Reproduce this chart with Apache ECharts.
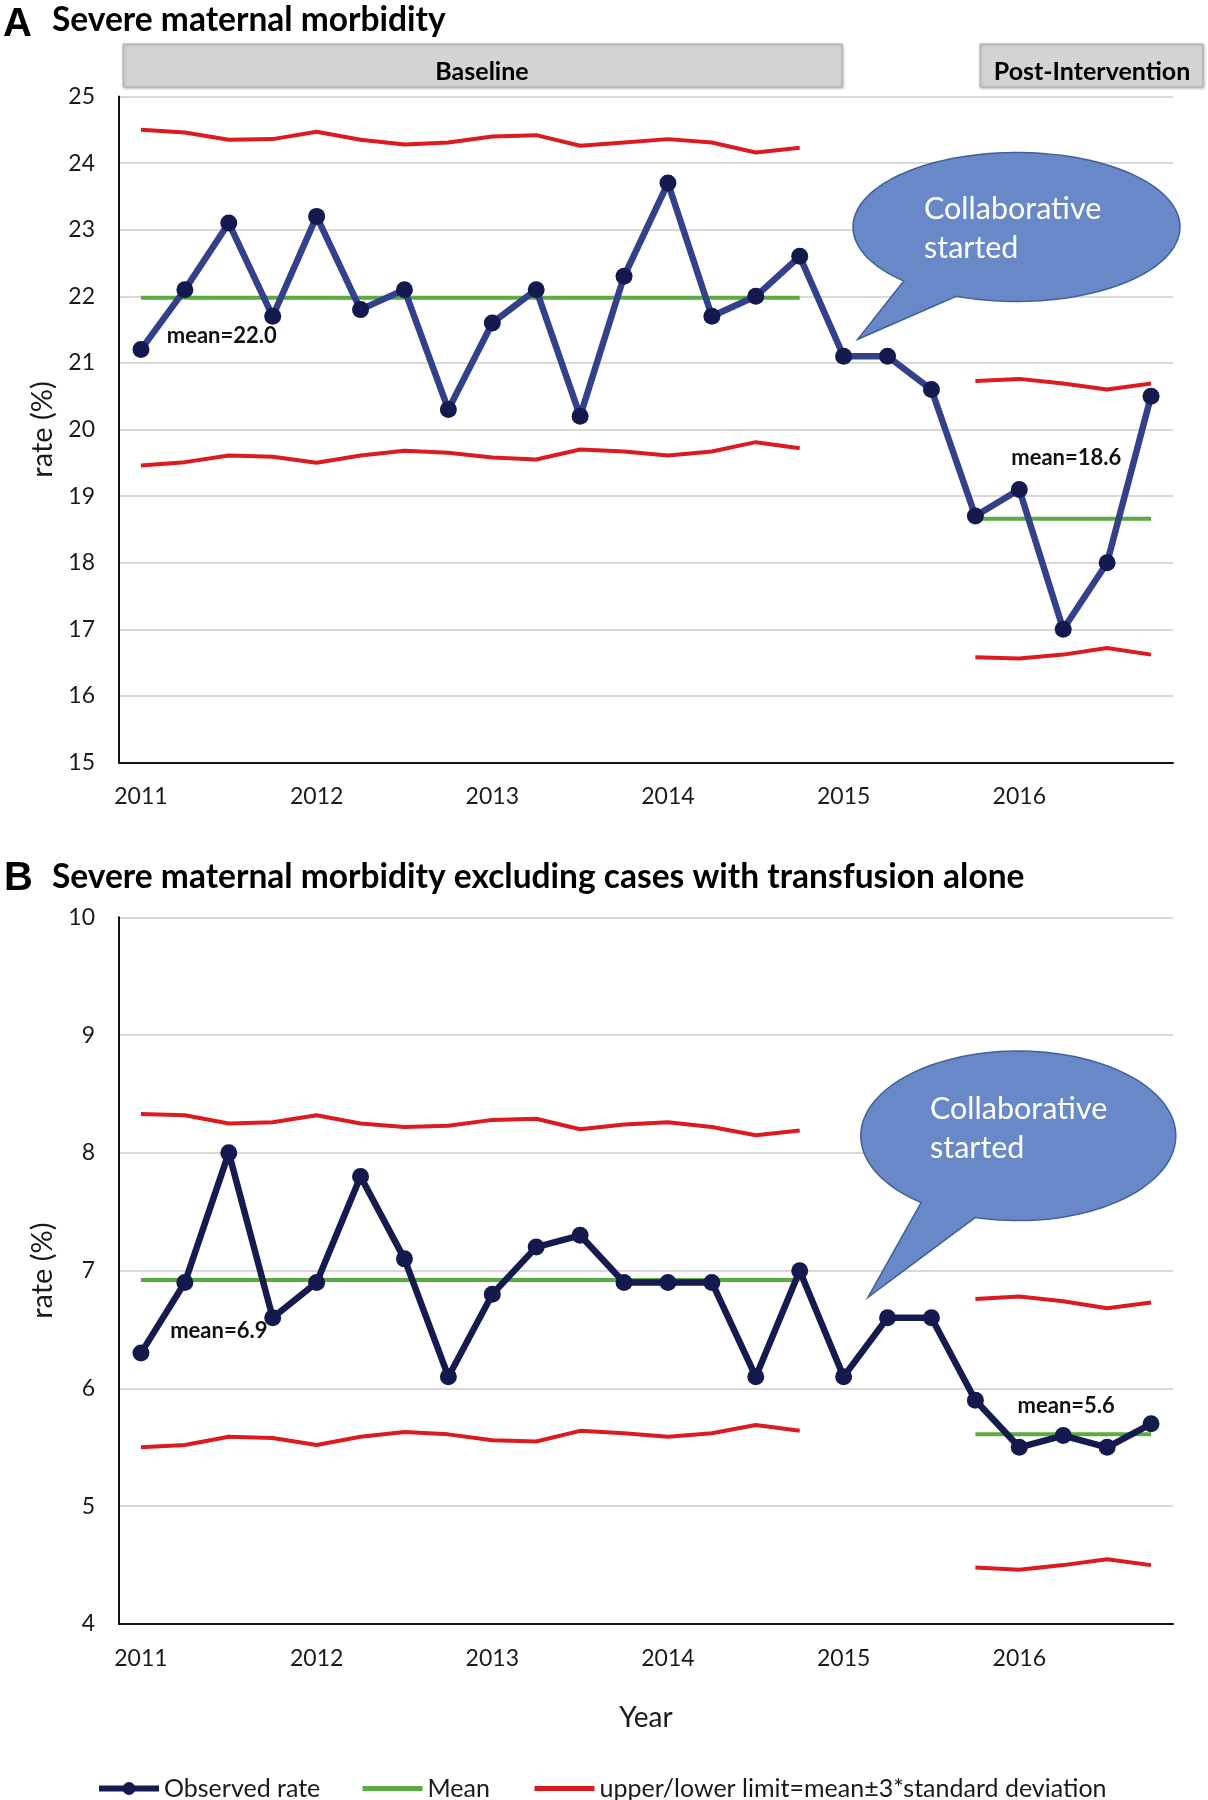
<!DOCTYPE html>
<html>
<head>
<meta charset="utf-8">
<script src="https://cdn.jsdelivr.net/npm/echarts@6/dist/echarts.min.js"></script>
<style>
  html, body { margin: 0; padding: 0; background: #fff; }
  #chart { width: 1208px; height: 1800px; }
</style>
</head>
<body>
<div id="chart"></div>
<script>
// ---------- DATA ----------
const categories = [
  '2011 Q1','2011 Q2','2011 Q3','2011 Q4',
  '2012 Q1','2012 Q2','2012 Q3','2012 Q4',
  '2013 Q1','2013 Q2','2013 Q3','2013 Q4',
  '2014 Q1','2014 Q2','2014 Q3','2014 Q4',
  '2015 Q1','2015 Q2','2015 Q3','2015 Q4',
  '2016 Q1','2016 Q2','2016 Q3','2016 Q4'
];

// Panel A: Severe maternal morbidity
const A_observed = [21.2, 22.1, 23.1, 21.7, 23.2, 21.8, 22.1, 20.3, 21.6, 22.1, 20.2, 22.3,
                    23.7, 21.7, 22.0, 22.6, 21.1, 21.1, 20.6, 18.7, 19.1, 17.0, 18.0, 20.5];
const A_mean  = [21.98, 21.98, 21.98, 21.98, 21.98, 21.98, 21.98, 21.98, 21.98, 21.98, 21.98, 21.98,
                 21.98, 21.98, 21.98, 21.98, '-', '-', '-', 18.66, 18.66, 18.66, 18.66, 18.66];
const A_upper = [24.50, 24.46, 24.35, 24.36, 24.47, 24.35, 24.28, 24.31, 24.40, 24.42, 24.26, 24.31,
                 24.36, 24.31, 24.16, 24.23, '-', '-', '-', 20.73, 20.76, 20.69, 20.60, 20.69];
const A_lower = [19.46, 19.51, 19.61, 19.59, 19.50, 19.61, 19.68, 19.65, 19.58, 19.55, 19.70, 19.67,
                 19.61, 19.67, 19.81, 19.72, '-', '-', '-', 16.58, 16.56, 16.62, 16.72, 16.62];

// Panel B: Severe maternal morbidity excluding cases with transfusion alone
const B_observed = [6.3, 6.9, 8.0, 6.6, 6.9, 7.8, 7.1, 6.1, 6.8, 7.2, 7.3, 6.9,
                    6.9, 6.9, 6.1, 7.0, 6.1, 6.6, 6.6, 5.9, 5.5, 5.6, 5.5, 5.7];
const B_mean  = [6.92, 6.92, 6.92, 6.92, 6.92, 6.92, 6.92, 6.92, 6.92, 6.92, 6.92, 6.92,
                 6.92, 6.92, 6.92, 6.92, '-', '-', '-', 5.61, 5.61, 5.61, 5.61, 5.61];
const B_upper = [8.33, 8.32, 8.25, 8.26, 8.32, 8.25, 8.22, 8.23, 8.28, 8.29, 8.20, 8.24,
                 8.26, 8.22, 8.15, 8.19, '-', '-', '-', 6.76, 6.78, 6.74, 6.68, 6.73];
const B_lower = [5.50, 5.52, 5.59, 5.58, 5.52, 5.59, 5.63, 5.61, 5.56, 5.55, 5.64, 5.62,
                 5.59, 5.62, 5.69, 5.64, '-', '-', '-', 4.48, 4.46, 4.50, 4.55, 4.50];

// Mean annotations: [category, value position, text]
const A_meanLabels = [['2011 Q3', 21.41, 'mean=22.0'], ['2016 Q2', 19.57, 'mean=18.6']];
const B_meanLabels = [['2011 Q3', 6.49, 'mean=6.9'], ['2016 Q2', 5.85, 'mean=5.6']];

const yTicksA = { min: 15, max: 25, interval: 1 };
const yTicksB = { min: 4, max: 10, interval: 1 };

const titleA = 'Severe maternal morbidity';
const titleB = 'Severe maternal morbidity excluding cases with transfusion alone';
const phaseLabels = ['Baseline', 'Post-Intervention'];
const bubbleText = ['Collaborative', 'started'];
const nameObs = 'Observed rate';
const nameMean = 'Mean';
const nameLim = 'upper/lower limit=mean\u00b13*standard deviation';

// ---------- STYLE ----------
const FONT = 'Lato, "Open Sans", sans-serif';
const RED = '#dc1a1f';
const GREEN = '#5aab42';
const NAVY_A = '#33418b';
const NAVY_B = '#151a4f';
const DOT = '#141a4e';
const TXT = '#1a1a1a';

function xAxisCfg(gridIndex, withName) {
  const c = {
    type: 'category', gridIndex, data: categories, boundaryGap: true,
    axisLine: { show: true, lineStyle: { color: '#111', width: 2 } },
    axisTick: { show: false },
    axisLabel: {
      interval: 0, margin: 23, color: TXT, fontFamily: FONT, fontSize: 23,
      formatter: v => v.endsWith('Q1') ? v.slice(0, 4) : ''
    },
    splitLine: { show: false }
  };
  if (withName) {
    c.name = 'Year'; c.nameLocation = 'middle'; c.nameGap = 80;
    c.nameTextStyle = { color: TXT, fontFamily: FONT, fontSize: 28 };
  }
  return c;
}
function yAxisCfg(gridIndex, t) {
  return {
    type: 'value', gridIndex, min: t.min, max: t.max, interval: t.interval,
    name: 'rate (%)', nameLocation: 'middle', nameGap: 60,
    nameTextStyle: { color: TXT, fontFamily: FONT, fontSize: 29 },
    axisLine: { show: true, lineStyle: { color: '#111', width: 2 } },
    axisTick: { show: false },
    axisLabel: { margin: 24, color: TXT, fontFamily: FONT, fontSize: 23 },
    splitLine: { show: true, lineStyle: { color: '#d9d9d9', width: 2 } }
  };
}
function meanMarks(labels, firstOffset) {
  return {
    symbol: 'circle', symbolSize: 1, silent: true,
    itemStyle: { color: 'rgba(0,0,0,0)' },
    label: {
      show: true, position: 'inside', color: '#111', fontFamily: FONT,
      fontSize: 22, fontWeight: 'bold', formatter: p => p.name
    },
    data: labels.map((l, i) => ({ name: l[2], coord: [l[0], l[1]], label: { offset: [i === 0 ? firstOffset : 3, 0] } }))
  };
}
function panelSeries(idx, obs, mean, up, lo, lineColor, labels, firstOffset) {
  return [
    { name: nameObs, type: 'line', xAxisIndex: idx, yAxisIndex: idx, data: obs,
      symbol: 'circle', symbolSize: 17, showSymbol: true, z: 5,
      lineStyle: { color: lineColor, width: 6.5 }, itemStyle: { color: DOT } },
    { name: nameMean, type: 'line', xAxisIndex: idx, yAxisIndex: idx, data: mean,
      symbol: 'none', connectNulls: false, z: 3,
      lineStyle: { color: GREEN, width: 4 }, itemStyle: { color: GREEN },
      markPoint: meanMarks(labels, firstOffset) },
    { name: nameLim, type: 'line', xAxisIndex: idx, yAxisIndex: idx, data: up,
      symbol: 'none', connectNulls: false, z: 2,
      lineStyle: { color: RED, width: 4 }, itemStyle: { color: RED } },
    { name: nameLim, type: 'line', xAxisIndex: idx, yAxisIndex: idx, data: lo,
      symbol: 'none', connectNulls: false, z: 2,
      lineStyle: { color: RED, width: 4 }, itemStyle: { color: RED } }
  ];
}
function legendCfg(item, left) {
  return {
    data: [item], left, top: 1776, padding: 0, selectedMode: false,
    itemWidth: 60, itemHeight: 16, lineStyle: { width: 6 },
    textStyle: { color: TXT, fontFamily: FONT, fontSize: 25 }
  };
}
// Speech-bubble outline (decoration): ellipse arc taken the long way between the two
// tail-base angles, then the tail tip.
function bubbleOutline(cx, cy, rx, ry, aRightDeg, aLeftDeg, tip) {
  const pts = [];
  const a0 = aRightDeg * Math.PI / 180;
  const a1 = (aLeftDeg - 360) * Math.PI / 180;
  const n = 120;
  for (let i = 0; i <= n; i++) {
    const a = a0 + (a1 - a0) * i / n;
    pts.push([cx + rx * Math.cos(a), cy + ry * Math.sin(a)]);
  }
  pts.push(tip);
  return pts;
}
function bubble(points, tx, ty1, ty2) {
  return [
    { type: 'polygon', shape: { points }, z: 50,
      style: { fill: '#6888c7', stroke: '#41609a', lineWidth: 1.5 } },
    { type: 'text', x: tx, y: ty1, z: 51,
      style: { text: bubbleText[0], fill: '#fff', font: '30.5px ' + FONT, verticalAlign: 'middle', align: 'left' } },
    { type: 'text', x: tx, y: ty2, z: 51,
      style: { text: bubbleText[1], fill: '#fff', font: '30.5px ' + FONT, verticalAlign: 'middle', align: 'left' } }
  ];
}

const hiddenSymbol = { color: 'rgba(0,0,0,0)', borderWidth: 0 };

const option = {
  animation: false,
  backgroundColor: '#fff',
  grid: [
    { left: 119, top: 96.5, width: 1054, height: 666, containLabel: false },
    { left: 119, top: 917.3, width: 1054, height: 706.7, containLabel: false }
  ],
  xAxis: [xAxisCfg(0, false), xAxisCfg(1, true)],
  yAxis: [yAxisCfg(0, yTicksA), yAxisCfg(1, yTicksB)],
  legend: [
    legendCfg(nameObs, 96),
    legendCfg({ name: nameMean, itemStyle: hiddenSymbol, lineStyle: { color: GREEN, width: 5 } }, 360),
    legendCfg({ name: nameLim, itemStyle: hiddenSymbol, lineStyle: { color: RED, width: 5 } }, 532)
  ],
  series: [].concat(
    panelSeries(1, B_observed, B_mean, B_upper, B_lower, NAVY_B, B_meanLabels, -10),
    panelSeries(0, A_observed, A_mean, A_upper, A_lower, NAVY_A, A_meanLabels, -7)
  ),
  graphic: [].concat(
    [
      { type: 'text', x: 3, y: 25, style: { text: 'A', fill: '#000', font: 'bold 40px "Liberation Sans", Arial, sans-serif', verticalAlign: 'middle' } },
      { type: 'text', x: 52, y: 20, style: { text: titleA, fill: '#000', font: 'bold 33.5px ' + FONT, verticalAlign: 'middle' } },
      { type: 'text', x: 4, y: 879, style: { text: 'B', fill: '#000', font: 'bold 40px "Liberation Sans", Arial, sans-serif', verticalAlign: 'middle' } },
      { type: 'text', x: 52, y: 877, style: { text: titleB, fill: '#000', font: 'bold 33.5px ' + FONT, verticalAlign: 'middle' } },
      { type: 'rect', shape: { x: 123, y: 44, width: 719, height: 43 },
        style: { fill: '#d4d4d4', stroke: '#ababab', lineWidth: 1, shadowBlur: 3, shadowOffsetX: 1, shadowOffsetY: 1, shadowColor: 'rgba(0,0,0,0.25)' } },
      { type: 'text', x: 482, y: 72, style: { text: phaseLabels[0], fill: '#000', font: 'bold 25px ' + FONT, align: 'center', verticalAlign: 'middle' } },
      { type: 'rect', shape: { x: 980, y: 44, width: 223, height: 43 },
        style: { fill: '#d4d4d4', stroke: '#ababab', lineWidth: 1, shadowBlur: 3, shadowOffsetX: 1, shadowOffsetY: 1, shadowColor: 'rgba(0,0,0,0.25)' } },
      { type: 'text', x: 1092, y: 72, style: { text: phaseLabels[1], fill: '#000', font: 'bold 25px ' + FONT, align: 'center', verticalAlign: 'middle' } }
    ],
    bubble(bubbleOutline(1016.5, 227, 163.5, 74.5, 111.6, 133.6, [857.7, 339.3]), 924, 209, 248),
    bubble(bubbleOutline(1018.3, 1135.8, 157.5, 84.8, 105.8, 128.1, [868, 1297.3]), 930, 1109, 1148)
  )
};

const chart = echarts.init(document.getElementById('chart'), null, { renderer: 'canvas' });
chart.setOption(option);
</script>
</body>
</html>
